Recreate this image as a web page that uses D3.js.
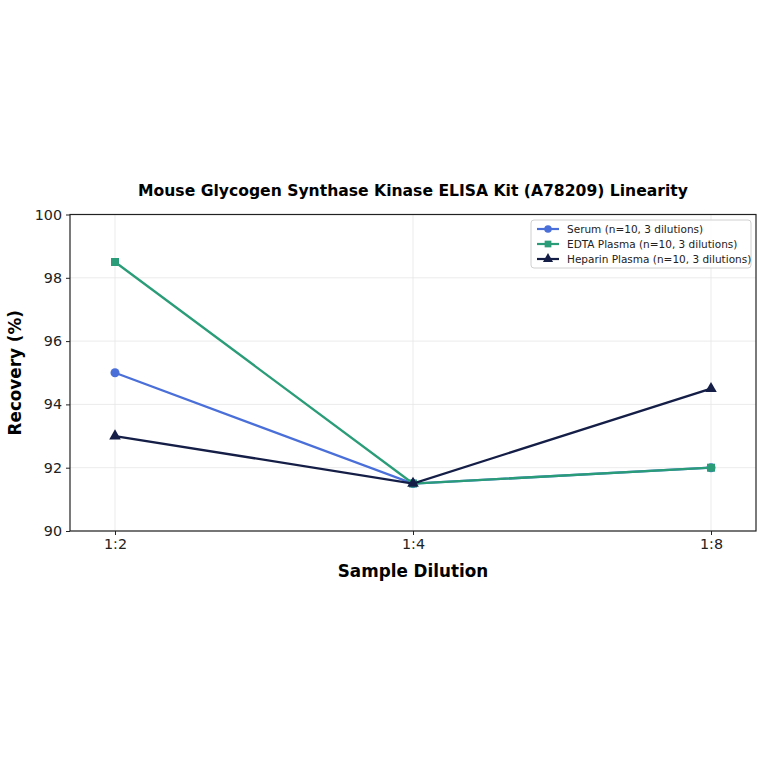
<!DOCTYPE html>
<html>
<head>
<meta charset="utf-8">
<script src="https://cdn.jsdelivr.net/npm/d3@7"></script>
<style>
  body { margin: 0; background: #fff; }
  text { font-family: "DejaVu Sans", sans-serif; }
</style>
</head>
<body>
<div class="canvas"></div>
<script>
// data
const dilutions = ['1:2', '1:4', '1:8'];
const serum = [95.0, 91.5, 92.0];
const edta = [98.5, 91.5, 92.0];
const heparin = [93.0, 91.5, 94.5];
const yTicks = [90, 92, 94, 96, 98, 100];

const seriesNames = ['Serum (n=10, 3 dilutions)', 'EDTA Plasma (n=10, 3 dilutions)', 'Heparin Plasma (n=10, 3 dilutions)'];
const seriesColors = ['#4a6fd8', '#2a9d78', '#141e46'];
const seriesSymbols = [d3.symbolCircle, d3.symbolSquare, d3.symbolTriangle];
const seriesValues = [serum, edta, heparin];

const width = 764, height = 764;
const margin = { top: 214.5, right: 8, bottom: 233, left: 70 };
const graphWidth = width - margin.left - margin.right;
const graphHeight = height - margin.top - margin.bottom;

const svg = d3.select('.canvas')
  .append('svg')
  .attr('width', width)
  .attr('height', height);

const graph = svg.append('g')
  .attr('transform', `translate(${margin.left},${margin.top})`);

// scales
const x = d3.scalePoint()
  .domain(dilutions)
  .range([0, graphWidth])
  .padding(0.151);

const y = d3.scaleLinear()
  .domain([90, 100])
  .range([graphHeight, 0]);

// grid
graph.append('g')
  .selectAll('line.gy')
  .data(yTicks)
  .enter().append('line')
  .attr('x1', 0).attr('x2', graphWidth)
  .attr('y1', d => y(d)).attr('y2', d => y(d))
  .attr('stroke', '#e6e6e6').attr('stroke-width', 0.8);

graph.append('g')
  .selectAll('line.gx')
  .data(dilutions)
  .enter().append('line')
  .attr('x1', d => x(d)).attr('x2', d => x(d))
  .attr('y1', 0).attr('y2', graphHeight)
  .attr('stroke', '#e6e6e6').attr('stroke-width', 0.8);

// axes
const xAxis = d3.axisBottom(x).tickSize(4).tickPadding(4);
const yAxis = d3.axisLeft(y).tickValues(yTicks).tickSize(4).tickPadding(4);

const xAxisGroup = graph.append('g')
  .attr('transform', `translate(0, ${graphHeight})`)
  .call(xAxis);
const yAxisGroup = graph.append('g').call(yAxis);

[xAxisGroup, yAxisGroup].forEach(g => {
  g.select('.domain').remove();
  g.selectAll('line').attr('stroke', '#222');
  g.selectAll('text').attr('font-size', 14.3).attr('fill', '#222')
    .style('font-family', '"DejaVu Sans", sans-serif');
});

// frame
graph.append('rect')
  .attr('width', graphWidth).attr('height', graphHeight)
  .attr('fill', 'none').attr('stroke', '#222').attr('stroke-width', 1.2);

// lines and markers
const line = d3.line()
  .x((d, i) => x(dilutions[i]))
  .y(d => y(d));

seriesValues.forEach((vals, s) => {
  graph.append('path')
    .datum(vals)
    .attr('d', line)
    .attr('fill', 'none')
    .attr('stroke', seriesColors[s])
    .attr('stroke-width', 2.3);

  graph.selectAll(null)
    .data(vals)
    .enter().append('path')
    .attr('d', d3.symbol().type(seriesSymbols[s]).size(s === 2 ? 58 : 64))
    .attr('transform', (d, i) => `translate(${x(dilutions[i])},${y(d)})`)
    .attr('fill', seriesColors[s]);
});

// title and labels
svg.append('text')
  .attr('x', margin.left + graphWidth / 2)
  .attr('y', 196)
  .attr('text-anchor', 'middle')
  .attr('font-size', 15.6)
  .attr('font-weight', 'bold')
  .text('Mouse Glycogen Synthase Kinase ELISA Kit (A78209) Linearity');

svg.append('text')
  .attr('x', margin.left + graphWidth / 2)
  .attr('y', 577)
  .attr('text-anchor', 'middle')
  .attr('font-size', 16.8)
  .attr('font-weight', 'bold')
  .text('Sample Dilution');

svg.append('text')
  .attr('transform', `translate(21, ${margin.top + graphHeight / 2}) rotate(-90)`)
  .attr('text-anchor', 'middle')
  .attr('font-size', 16.8)
  .attr('font-weight', 'bold')
  .text('Recovery (%)');

// legend
const legend = svg.append('g').attr('transform', 'translate(531, 220)');
legend.append('rect')
  .attr('width', 220).attr('height', 48)
  .attr('rx', 3)
  .attr('fill', '#fff').attr('fill-opacity', 0.85)
  .attr('stroke', '#d0d0d0');

seriesNames.forEach((name, s) => {
  const row = legend.append('g').attr('transform', `translate(6, ${9 + s * 15})`);
  row.append('line')
    .attr('x1', 0).attr('x2', 22)
    .attr('stroke', seriesColors[s]).attr('stroke-width', 2.2);
  row.append('path')
    .attr('d', d3.symbol().type(seriesSymbols[s]).size(45))
    .attr('transform', 'translate(11,0)')
    .attr('fill', seriesColors[s]);
  row.append('text')
    .attr('x', 30).attr('y', 4)
    .attr('font-size', 10.5)
    .attr('fill', '#222')
    .text(name);
});
</script>
</body>
</html>
